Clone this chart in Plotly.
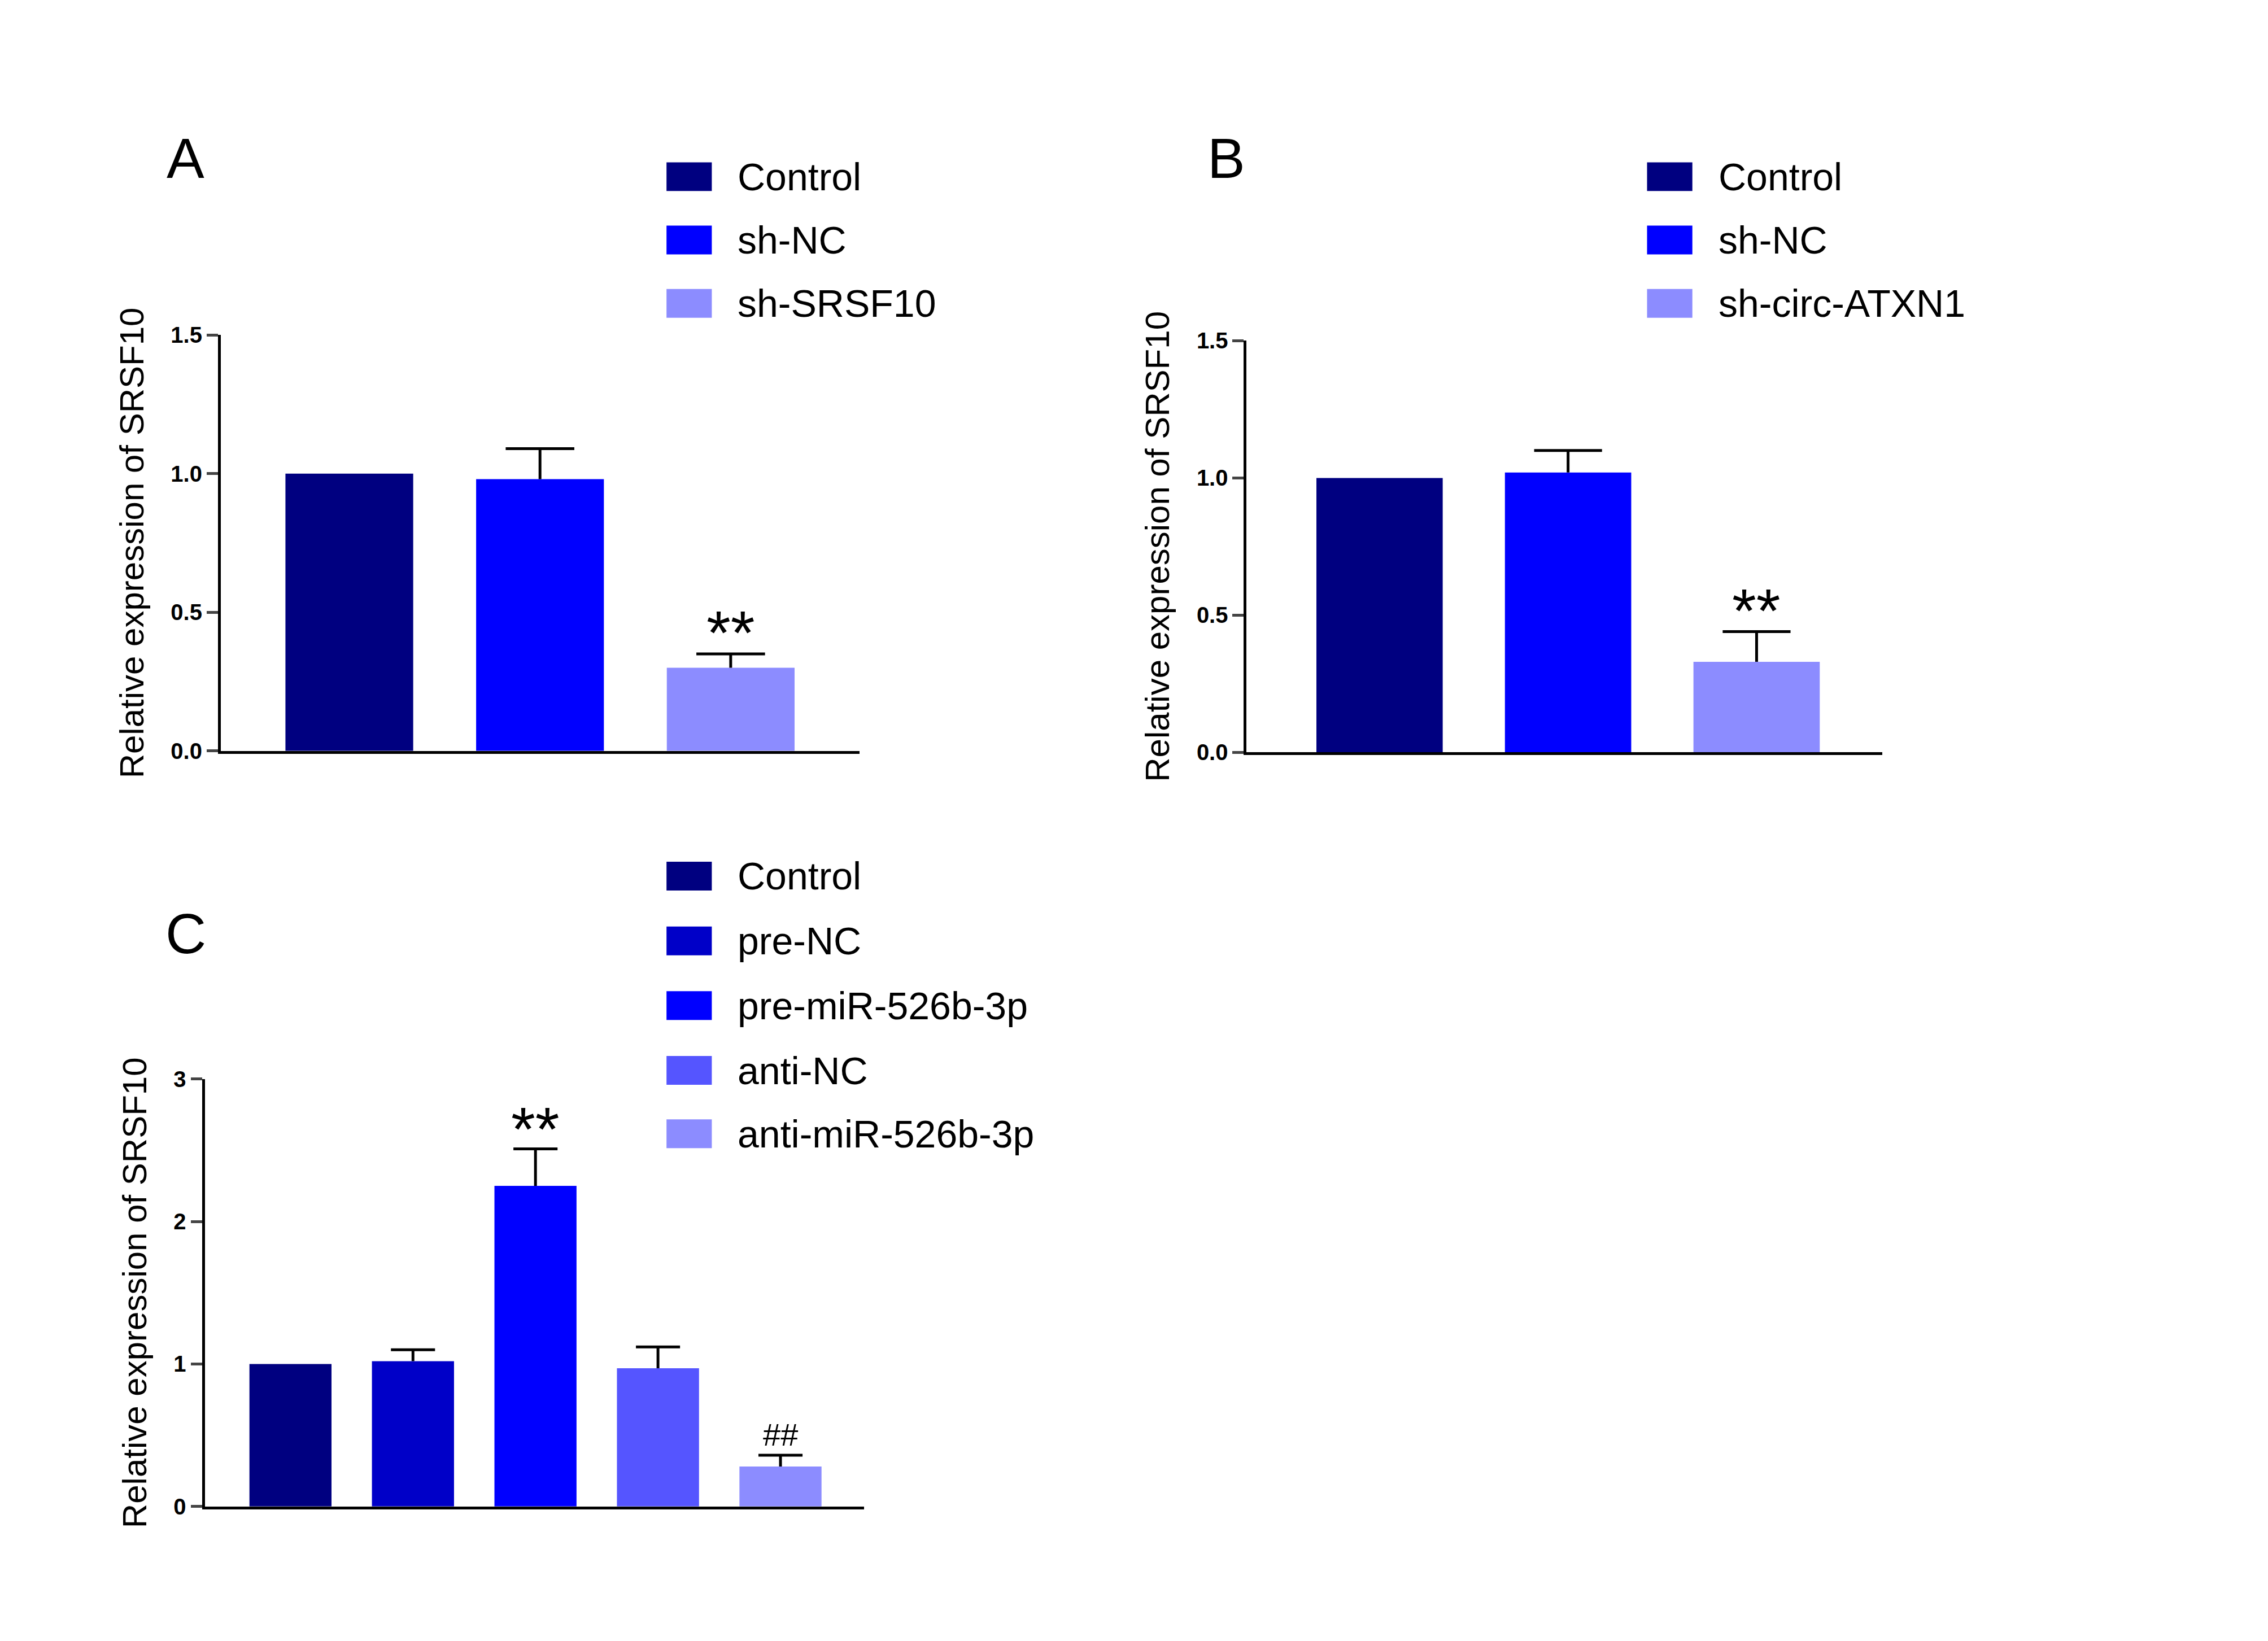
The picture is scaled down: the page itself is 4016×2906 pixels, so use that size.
import plotly.graph_objects as go

W, H = 1552.0, 1123.0  # reference coords used for layout fractions

# panel A
a_groups = ["Control", "sh-NC", "sh-SRSF10"]
a_vals = [1.0, 0.98, 0.30]
a_err = [0.0, 0.11, 0.05]
# panel B
b_groups = ["Control", "sh-NC", "sh-circ-ATXN1"]
b_vals = [1.0, 1.02, 0.33]
b_err = [0.0, 0.08, 0.11]
# panel C
c_groups = ["Control", "pre-NC", "pre-miR-526b-3p", "anti-NC", "anti-miR-526b-3p"]
c_vals = [1.0, 1.02, 2.25, 0.97, 0.28]
c_err = [0.0, 0.08, 0.26, 0.15, 0.08]

ab_colors = ["#000080", "#0000ff", "#8c8cff"]
c_colors = ["#000080", "#0000c8", "#0000ff", "#5555ff", "#8c8cff"]

fig = go.Figure()

def px(x): return x / W
def py(y): return 1 - y / H

shapes = []
panels = [
    ("x", "y", a_groups, a_vals, a_err, ab_colors),
    ("x2", "y2", b_groups, b_vals, b_err, ab_colors),
    ("x3", "y3", c_groups, c_vals, c_err, c_colors),
]
for xa, ya, g, v, e, cols in panels:
    fig.add_trace(go.Bar(
        x=list(range(len(g))), y=v, xaxis=xa, yaxis=ya, width=0.67,
        marker=dict(color=cols, line=dict(width=0)), showlegend=False,
    ))
    # one-sided error bars (stem + top cap only)
    for i, (val, er) in enumerate(zip(v, e)):
        if er <= 0:
            continue
        shapes.append(dict(type="line", xref=xa, yref=ya, x0=i, x1=i, y0=val, y1=val + er,
                           line=dict(color="black", width=5)))
        shapes.append(dict(type="line", xref=xa, yref=ya, x0=i - 0.18, x1=i + 0.18,
                           y0=val + er, y1=val + er, line=dict(color="black", width=5)))

tickfont = dict(size=40, family="Liberation Sans", color="black", weight="bold")
yax = dict(showline=True, linecolor="black", linewidth=5, ticks="outside", ticklen=20,
           tickwidth=5, tickfont=tickfont, showgrid=False, zeroline=False,
           title=dict(text="Relative expression of SRSF10", font=dict(size=60), standoff=30))
xax = dict(showline=True, linecolor="black", linewidth=5, showticklabels=False,
           ticks="", showgrid=False, zeroline=False)

fig.update_layout(
    width=4016, height=2906, paper_bgcolor="white", plot_bgcolor="white",
    margin=dict(l=0, r=0, t=0, b=0), font=dict(family="Liberation Sans", color="black"),
    xaxis=dict(xax, domain=[px(148), px(585)], range=[-0.674, 2.675], anchor="y"),
    yaxis=dict(yax, domain=[py(510), py(221)], range=[0, 1.5], tickvals=[0, 0.5, 1.0, 1.5],
               ticktext=["0.0", "0.5", "1.0", "1.5"], anchor="x"),
    xaxis2=dict(xax, domain=[px(850), px(1285)], range=[-0.705, 2.667], anchor="y2"),
    yaxis2=dict(yax, domain=[py(511), py(225)], range=[0, 1.5], tickvals=[0, 0.5, 1.0, 1.5],
                ticktext=["0.0", "0.5", "1.0", "1.5"], anchor="x2"),
    xaxis3=dict(xax, domain=[px(137), px(588)], range=[-0.70, 4.68], anchor="y3"),
    yaxis3=dict(yax, domain=[py(1035), py(738)], range=[0, 3], tickvals=[0, 1, 2, 3],
                anchor="x3"),
)

ann = []
# panel letters
for letter, x, y in [("A", 124, 98), ("B", 836, 98), ("C", 124, 637)]:
    ann.append(dict(text=letter, x=px(x), y=py(y), xref="paper", yref="paper",
                    xanchor="center", yanchor="middle",
                    showarrow=False, font=dict(size=100, color="black")))
# legends
legends = [(453, [111, 155, 199], a_groups, ab_colors),
           (1124, [111, 155, 199], b_groups, ab_colors),
           (453, [597, 642, 687, 732, 776], c_groups, c_colors)]
for lx, ys, g, cols in legends:
    for yy, name, col in zip(ys, g, cols):
        shapes.append(dict(type="rect", xref="paper", yref="paper", x0=px(lx), x1=px(lx + 31),
                           y0=py(yy + 10), y1=py(yy - 10), fillcolor=col, line=dict(width=0)))
        ann.append(dict(text=name, x=px(lx + 48), y=py(yy), xref="paper", yref="paper",
                        xanchor="left", yanchor="middle", showarrow=False,
                        font=dict(size=68)))
# significance marks
for xr, yr, xi, yv, t, s in [("x", "y", 2, 0.36, "**", 110), ("x2", "y2", 2, 0.45, "**", 110),
                            ("x3", "y3", 2, 2.52, "**", 110), ("x3", "y3", 4, 0.37, "##", 56)]:
    ann.append(dict(text=t, x=xi, y=yv, xref=xr, yref=yr, yanchor="bottom",
                    showarrow=False, font=dict(size=s), yshift=-30 if t == "**" else 0))
fig.update_layout(annotations=ann, shapes=shapes)

fig.write_html("out.html")
